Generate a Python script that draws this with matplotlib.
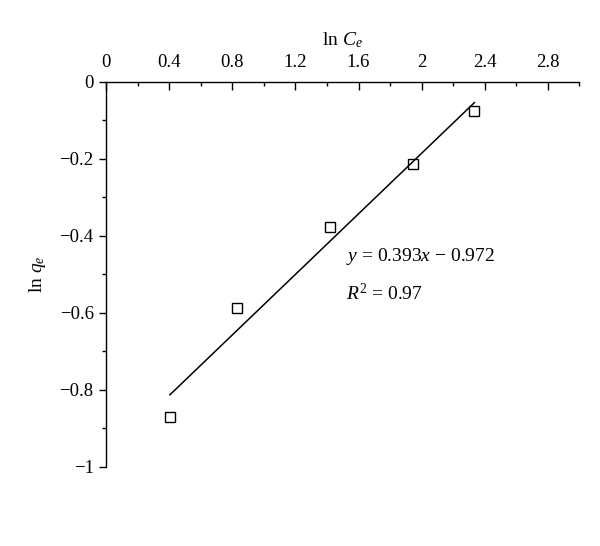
import numpy as np
import matplotlib.pyplot as plt
from matplotlib.ticker import MultipleLocator

plt.rcParams['font.family'] = ['Liberation Serif', 'DejaVu Serif']
plt.rcParams['mathtext.fontset'] = 'custom'
plt.rcParams['mathtext.rm'] = 'Liberation Serif'
plt.rcParams['mathtext.it'] = 'Liberation Serif:italic'

# data
ln_ce = [0.404, 0.827, 1.416, 1.946, 2.335]
ln_qe = [-0.870, -0.589, -0.377, -0.213, -0.075]
slope = 0.393
intercept = -0.972
r2 = 0.97

fig = plt.figure(figsize=(6, 5.46), dpi=100)
ax = fig.add_axes([0.177, 0.1452, 0.7885, 0.7052])

ax.plot(ln_ce, ln_qe, 's', mfc='white', mec='black', ms=7, mew=1.0)
xf = np.array([min(ln_ce), max(ln_ce)])
ax.plot(xf, slope * xf + intercept, color='black', lw=1.1)

ax.set_xlim(0, 3)
ax.set_ylim(-1, 0)

ax.spines['bottom'].set_visible(False)
ax.spines['right'].set_visible(False)
ax.spines['top'].set_linewidth(1.0)
ax.spines['left'].set_linewidth(1.0)

ax.xaxis.tick_top()
ax.xaxis.set_label_position('top')
ax.xaxis.set_minor_locator(MultipleLocator(0.2))
ax.yaxis.set_minor_locator(MultipleLocator(0.1))
ax.set_xticks([0, 0.4, 0.8, 1.2, 1.6, 2.0, 2.4, 2.8])
ax.set_xticklabels(['0', '0.4', '0.8', '1.2', '1.6', '2', '2.4', '2.8'])
ax.set_yticks([0, -0.2, -0.4, -0.6, -0.8, -1])
ax.set_yticklabels(['0', '\u22120.2', '\u22120.4', '\u22120.6', '\u22120.8', '\u22121'])

ax.tick_params(axis='x', which='major', direction='in', length=5.5, width=1.0,
               labelsize=13.5, pad=8)
ax.tick_params(axis='x', which='minor', direction='in', length=3, width=1.0)
ax.tick_params(axis='y', which='major', direction='out', length=5, width=1.0,
               labelsize=13.5, pad=4)
ax.tick_params(axis='y', which='minor', direction='out', length=3, width=1.0)

ax.set_xlabel('ln $C_e$', fontsize=14, labelpad=6)
ax.set_ylabel('ln $q_e$', fontsize=14, labelpad=8)

ax.text(1.52, -0.455, '$y$ = 0.393$x$ \u2212 0.972', fontsize=14, va='center')
ax.text(1.52, -0.55, '$R^2$ = 0.97', fontsize=14, va='center')

fig.savefig('out.png', dpi=100)
